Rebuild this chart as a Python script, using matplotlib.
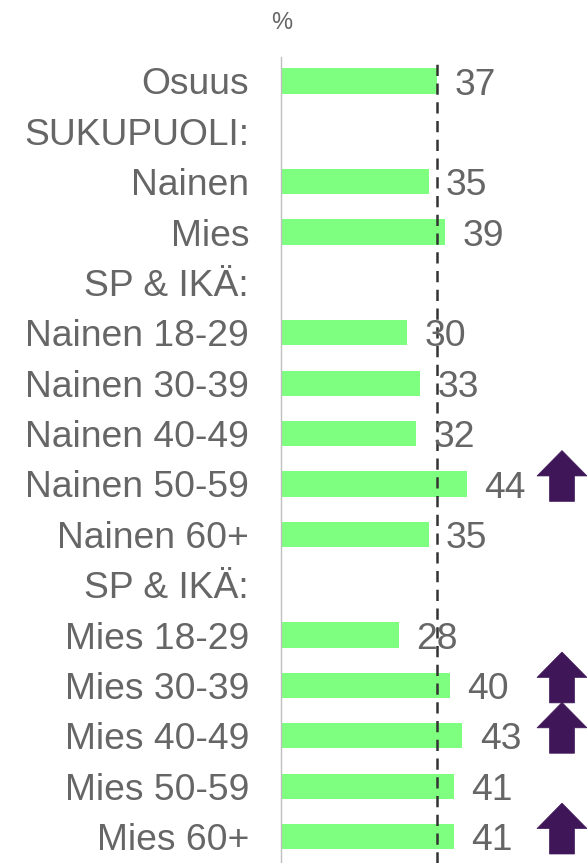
import matplotlib
matplotlib.use("Agg")
import matplotlib.pyplot as plt
from matplotlib.patches import Polygon

categories = ["Osuus", "SUKUPUOLI:", "Nainen", "Mies", "SP & IKÄ:",
              "Nainen 18-29", "Nainen 30-39", "Nainen 40-49", "Nainen 50-59", "Nainen 60+",
              "SP & IKÄ:", "Mies 18-29", "Mies 30-39", "Mies 40-49", "Mies 50-59", "Mies 60+"]
values = [37, None, 35, 39, None, 30, 33, 32, 44, 35, None, 28, 40, 43, 41, 41]
arrow_up = [False, False, False, False, False, False, False, False, True, False,
            False, False, True, True, False, True]
reference_value = 37
unit_label = "%"

W, H = 587, 863
fig = plt.figure(figsize=(W / 100, H / 100), dpi=100)
ax_left, ax_top = 281, 57
ax = fig.add_axes([ax_left / W, 0, 1 - ax_left / W, 1 - ax_top / H])

px_per_unit = 156 / 37.0
xmax = (W - ax_left) / px_per_unit
n = len(categories)
row_px = (H - ax_top) / (n - 0.05)
ax.set_xlim(0, xmax)
ax.set_ylim(n - 0.5 + 0.025, -0.475)

bar_color = "#7FFF7F"
text_color = "#666666"
font = "Liberation Sans"

ys = list(range(n))
for y, v in zip(ys, values):
    if v is None:
        continue
    ax.barh(y, v, height=0.5, color=bar_color, zorder=2)
    ax.annotate(str(v), (v, y), xytext=(12.5, -3), textcoords="offset points",
                ha="left", va="center", fontsize=26.8, color=text_color,
                family=font, zorder=4)

ax.axvline(reference_value, color="#333333", lw=1.8, dashes=(4.5, 3.0), zorder=3)

# arrows
arrow_color = "#3F1758"
cx_px = 562 - ax_left
for y, up in zip(ys, arrow_up):
    if not up:
        continue
    cy = y - 8 / row_px
    pts_px = [(0, -25.5), (25, 0), (12.5, 0), (12.5, 25.5), (-12.5, 25.5), (-12.5, 0), (-25, 0)]
    pts = [((cx_px + px) / px_per_unit, cy + py / row_px) for px, py in pts_px]
    ax.add_patch(Polygon(pts, closed=True, facecolor=arrow_color, edgecolor=arrow_color,
                         lw=0.5, zorder=3, clip_on=False))

ax.set_yticks(ys)
ax.set_yticklabels(categories, fontsize=26.8, color=text_color, family=font)
ax.tick_params(axis="y", length=0, pad=23)
ax.set_xticks([])
for s in ["top", "right", "bottom"]:
    ax.spines[s].set_visible(False)
ax.spines["left"].set_color("#BFBFBF")
ax.spines["left"].set_linewidth(1.0)

fig.text(282 / W, 1 - 23 / H, unit_label, ha="center", va="center",
         fontsize=17, color=text_color, family=font)

fig.savefig("out.png", dpi=100)
